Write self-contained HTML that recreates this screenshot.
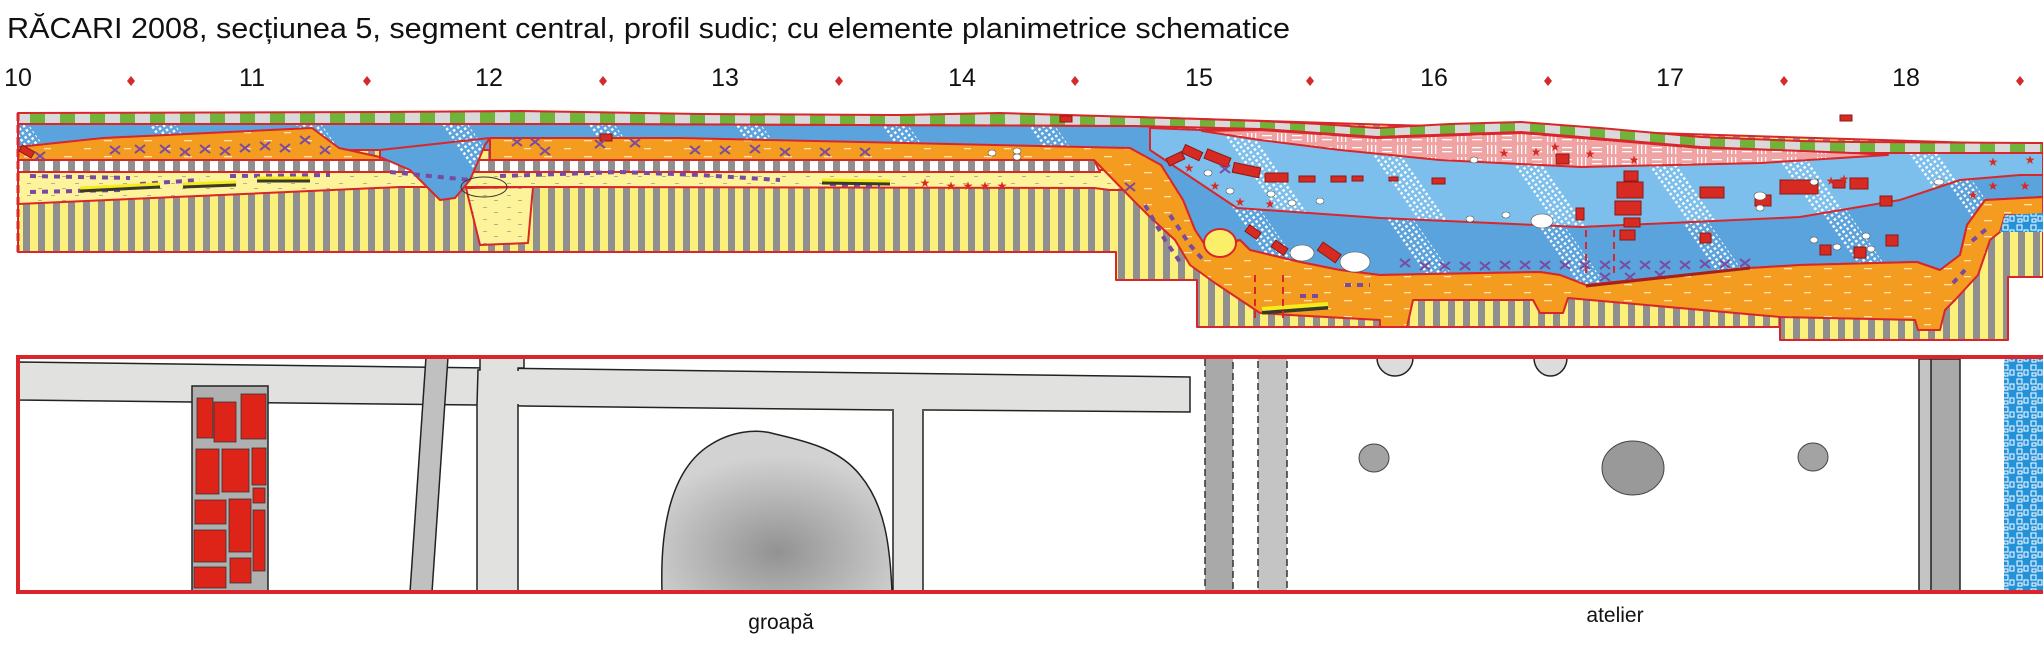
<!DOCTYPE html>
<html><head><meta charset="utf-8"><style>
html,body{margin:0;padding:0;background:#fff;}
svg{display:block;}
text{font-family:"Liberation Sans",Arial,sans-serif;fill:#111;}
</style></head><body>
<svg width="2043" height="648" viewBox="0 0 2043 648" xmlns="http://www.w3.org/2000/svg">
<defs>
<pattern id="pGreen" width="30" height="40" patternUnits="userSpaceOnUse">
<rect width="30" height="40" fill="#d9d9d9"/><rect x="0" width="15" height="40" fill="#6fb33b"/></pattern>
<pattern id="pYS" width="15" height="20" patternUnits="userSpaceOnUse">
<rect width="15" height="20" fill="#fbf07a"/><rect x="8" width="7" height="20" fill="#8f8f8f"/></pattern>
<pattern id="pGW" width="15" height="20" patternUnits="userSpaceOnUse">
<rect width="15" height="20" fill="#fff"/><rect x="8" width="7" height="20" fill="#8f8f8f"/></pattern>
<pattern id="pOr" width="40" height="16" patternUnits="userSpaceOnUse">
<rect width="40" height="16" fill="#f39c1f"/><rect x="4" y="4" width="7" height="1.3" fill="#fde2b0"/><rect x="24" y="12" width="8" height="1.3" fill="#fde2b0"/></pattern>
<pattern id="pYel" width="24" height="12" patternUnits="userSpaceOnUse">
<rect width="24" height="12" fill="#fdf39a"/><rect x="3" y="3" width="4" height="1" fill="#b8b08a"/><rect x="14" y="8" width="4" height="1" fill="#b8b08a"/></pattern>
<pattern id="pBlue" width="120" height="120" patternUnits="userSpaceOnUse" patternTransform="rotate(-35)">
<rect width="120" height="120" fill="#5ba3dc"/>
<rect x="50" y="0" width="22" height="120" fill="url(#pDots)"/></pattern>
<pattern id="pBlueL" width="110" height="110" patternUnits="userSpaceOnUse" patternTransform="rotate(-35)">
<rect width="110" height="110" fill="#7cbfec"/>
<rect x="45" y="0" width="24" height="110" fill="url(#pDots)"/></pattern>
<pattern id="pDots" width="5" height="5" patternUnits="userSpaceOnUse">
<rect x="1" y="1" width="2.5" height="2.5" fill="#fff"/></pattern>
<pattern id="pPink" width="30" height="12" patternUnits="userSpaceOnUse">
<rect width="30" height="12" fill="#f0a3a3"/><rect x="2" y="3" width="10" height="1.3" fill="#fff"/><rect x="2" y="7" width="10" height="1.3" fill="#fff"/><rect x="17" y="1" width="1.3" height="9" fill="#fff"/><rect x="21" y="1" width="1.3" height="9" fill="#fff"/><rect x="25" y="1" width="1.3" height="9" fill="#fff"/></pattern>
<pattern id="pStone" width="14" height="14" patternUnits="userSpaceOnUse">
<rect width="14" height="14" fill="#2392d8"/><rect x="1" y="1" width="5" height="5" fill="none" stroke="#fff" stroke-width="1"/><rect x="8" y="6" width="4" height="5" fill="none" stroke="#fff" stroke-width="1"/><rect x="2" y="9" width="4" height="3" fill="none" stroke="#fff" stroke-width="1"/></pattern>
<radialGradient id="gBlob" cx="0.5" cy="0.75" r="0.6">
<stop offset="0" stop-color="#929292"/><stop offset="1" stop-color="#d2d2d2"/></radialGradient>
<symbol id="x" viewBox="0 0 10 8" overflow="visible"><path d="M0,0 L10,8 M0,8 L10,0" stroke="#7a4aa0" stroke-width="2"/></symbol>
</defs>

<text x="7" y="38" font-size="29" textLength="1283" lengthAdjust="spacingAndGlyphs">RĂCARI 2008, secțiunea 5, segment central, profil sudic; cu elemente planimetrice schematice</text>
<g font-size="25" text-anchor="middle">
<text x="18" y="86">10</text><text x="252" y="86">11</text><text x="489" y="86">12</text><text x="725" y="86">13</text><text x="962" y="86">14</text><text x="1199" y="86">15</text><text x="1434" y="86">16</text><text x="1670" y="86">17</text><text x="1906" y="86">18</text>
</g>
<g fill="#d42a2a">
<path d="M131,76 L135,81 L131,86 L127,81Z"/><path d="M367,76 L371,81 L367,86 L363,81Z"/><path d="M603,76 L607,81 L603,86 L599,81Z"/><path d="M839,76 L843,81 L839,86 L835,81Z"/><path d="M1075,76 L1079,81 L1075,86 L1071,81Z"/><path d="M1310,76 L1314,81 L1310,86 L1306,81Z"/><path d="M1548,76 L1552,81 L1548,86 L1544,81Z"/><path d="M1784,76 L1788,81 L1784,86 L1780,81Z"/><path d="M2020,76 L2024,81 L2020,86 L2016,81Z"/>
</g>

<g stroke="#d9262b" stroke-width="2" stroke-linejoin="round">
<path fill="url(#pYS)" d="M18,113 L1136,117 L2043,145 L2043,277 L2008,277 L2008,340 L1780,340 L1780,327 L1197,327 L1197,280 L1116,280 L1116,252 L18,252 Z"/>
<path fill="url(#pYel)" d="M18,170 L1110,170 L1135,190 L1110,190 L1094,188 L533,187 L400,187 L18,204 Z"/>
<path fill="url(#pYel)" d="M466,188 L480,245 L528,243 L533,187 Z"/>
<path fill="url(#pGW)" d="M18,160 L1094,160 L1100,172 L18,172 Z"/>
<path fill="url(#pBlue)" d="M18,124 L600,124 L1136,126 L1260,129 L1377,137 L1521,132 L1701,147 L1852,153 L2043,153 L2043,197 L1985,200 L1967,225 L1960,255 L1940,270 L1917,262 L1800,265 L1750,268 L1586,285 L1560,275 L1540,272 L1380,275 L1340,270 L1300,262 L1250,250 L1240,240 L1205,245 L1195,230 L1183,200 L1161,165 L1130,150 L18,150 Z"/>
<path fill="url(#pBlue)" d="M380,150 L380,157 L410,170 L430,190 L440,200 L455,198 L470,180 L485,145 L490,138 Z"/>
<path fill="url(#pBlueL)" d="M1150,128 L1200,130 L1260,129 L1377,137 L1521,132 L1701,147 L1852,153 L2043,153 L2043,175 L2020,175 L1960,180 L1900,200 L1800,217 L1780,218 L1581,227 L1380,218 L1237,208 L1150,150 Z"/>
<path fill="url(#pPink)" d="M1202,131 L1260,130 L1377,138 L1521,133 L1701,148 L1820,151 L1888,155 L1761,163 L1581,167 L1440,160 L1340,150 L1260,140 Z"/>
<path fill="url(#pOr)" d="M18,147 L103,138 L312,128 L339,148 L380,157 L380,160 L18,160 Z"/>
<path fill="url(#pOr)" d="M490,138 L680,138 L1130,148 L1161,165 L1183,200 L1195,230 L1205,245 L1215,250 L1240,240 L1250,250 L1300,262 L1340,270 L1380,275 L1540,272 L1560,275 L1586,285 L1750,268 L1800,265 L1917,262 L1940,270 L1960,255 L1967,225 L1985,200 L2043,197 L2043,215 L2005,215 L2000,232 L1990,240 L1978,275 L1955,300 L1945,310 L1940,330 L1918,330 L1915,320 L1780,317 L1568,298 L1563,313 L1540,313 L1533,300 L1413,300 L1407,327 L1380,327 L1380,320 L1290,315 L1260,313 L1215,283 L1190,265 L1175,240 L1150,217 L1133,200 L1094,160 L490,160 Z"/>
<path fill="url(#pStone)" d="M2005,215 L2043,213 L2043,232 L2000,232 Z" stroke="none"/>
<path fill="url(#pGreen)" d="M18,113 L380,112 L520,111 L700,114 L900,115 L1000,113 L1136,117 L1200,119 L1260,121 L1320,124 L1377,128 L1450,124 L1521,122 L1600,128 L1701,137 L1800,141 L1852,142 L2043,143 L2043,153 L1852,153 L1701,147 L1521,132 L1377,137 L1260,129 L1136,126 L600,124 L18,124 Z"/>
<ellipse cx="1220" cy="243" rx="16" ry="14" fill="#fbef6a"/>
</g>
<path d="M18,113 L18,252" stroke="#d9262b" stroke-width="3" stroke-dasharray="8,4"/>
<line x1="1780" y1="317" x2="1780" y2="327" stroke="#d9262b" stroke-width="2"/>

<g fill="#d62a22" stroke="#8a1a14" stroke-width="1">
<rect x="1167" y="155" width="17" height="8" transform="rotate(-25 1175 159)"/>
<rect x="1183" y="148" width="19" height="9" transform="rotate(25 1192 152)"/>
<rect x="1205" y="153" width="25" height="10" transform="rotate(22 1217 158)"/>
<rect x="1233" y="165" width="27" height="10" transform="rotate(12 1246 170)"/>
<rect x="1265" y="173" width="23" height="9"/>
<rect x="1299" y="176" width="16" height="6"/>
<rect x="1331" y="176" width="15" height="6"/>
<rect x="1352" y="176" width="11" height="5"/>
<rect x="1389" y="177" width="9" height="4"/>
<rect x="1432" y="178" width="13" height="6"/>
<rect x="1556" y="154" width="13" height="10"/>
<rect x="1624" y="171" width="14" height="10"/>
<rect x="1617" y="182" width="26" height="16"/>
<rect x="1615" y="201" width="26" height="14"/>
<rect x="1624" y="218" width="16" height="9"/>
<rect x="1620" y="230" width="15" height="10"/>
<rect x="1700" y="187" width="24" height="11"/>
<rect x="1755" y="195" width="16" height="11"/>
<rect x="1780" y="180" width="38" height="14"/>
<rect x="1850" y="178" width="18" height="11"/>
<rect x="1880" y="196" width="12" height="10"/>
<rect x="1576" y="208" width="8" height="12"/>
<rect x="1700" y="233" width="11" height="10"/>
<rect x="1820" y="245" width="11" height="10"/>
<rect x="1854" y="247" width="12" height="11"/>
<rect x="1886" y="235" width="12" height="11"/>
<rect x="1833" y="180" width="12" height="8"/>
<rect x="1246" y="228" width="14" height="8" transform="rotate(35 1253 232)"/>
<rect x="1272" y="244" width="15" height="8" transform="rotate(35 1280 248)"/>
<rect x="1318" y="248" width="22" height="10" transform="rotate(35 1330 253)"/>
<rect x="1840" y="115" width="12" height="6"/><rect x="1060" y="116" width="12" height="6"/>
<rect x="600" y="134" width="12" height="7"/><rect x="20" y="148" width="14" height="7" transform="rotate(30 27 151)"/>
</g>
<g fill="#fff" stroke="#555" stroke-width="0.6">
<ellipse cx="1302" cy="253" rx="12" ry="8"/><ellipse cx="1355" cy="262" rx="15" ry="10"/>
<ellipse cx="1542" cy="221" rx="11" ry="7"/><ellipse cx="1506" cy="215" rx="4" ry="3"/><ellipse cx="1470" cy="219" rx="4" ry="3"/>
<ellipse cx="1208" cy="173" rx="4" ry="3"/><ellipse cx="1230" cy="191" rx="4" ry="3"/><ellipse cx="1271" cy="194" rx="4" ry="3"/>
<ellipse cx="1292" cy="203" rx="4" ry="3"/><ellipse cx="1320" cy="201" rx="4" ry="3"/><ellipse cx="1474" cy="160" rx="4" ry="3"/>
<ellipse cx="1760" cy="196" rx="6" ry="4"/><ellipse cx="1760" cy="208" rx="4" ry="3"/><ellipse cx="1814" cy="182" rx="4" ry="3"/>
<ellipse cx="1814" cy="240" rx="4" ry="3"/><ellipse cx="1837" cy="247" rx="4" ry="3"/><ellipse cx="1866" cy="236" rx="4" ry="3"/><ellipse cx="1871" cy="249" rx="4" ry="3"/>
<ellipse cx="1939" cy="182" rx="5" ry="3"/><ellipse cx="992" cy="153" rx="4" ry="3"/><ellipse cx="1017" cy="151" rx="4" ry="3"/><ellipse cx="1017" cy="157" rx="4" ry="3"/>
</g>
<g font-size="12" text-anchor="middle">
<text x="1189" y="172" style="fill:#d62a22">★</text><text x="1215" y="190" style="fill:#d62a22">★</text><text x="1240" y="206" style="fill:#d62a22">★</text><text x="1270" y="208" style="fill:#d62a22">★</text>
<text x="1504" y="157" style="fill:#d62a22">★</text><text x="1536" y="156" style="fill:#d62a22">★</text><text x="1555" y="151" style="fill:#d62a22">★</text><text x="1590" y="158" style="fill:#d62a22">★</text><text x="1634" y="164" style="fill:#d62a22">★</text>
<text x="1831" y="185" style="fill:#d62a22">★</text><text x="1844" y="183" style="fill:#d62a22">★</text>
<text x="1993" y="166" style="fill:#d62a22">★</text><text x="2030" y="164" style="fill:#d62a22">★</text><text x="1993" y="190" style="fill:#d62a22">★</text><text x="2025" y="190" style="fill:#d62a22">★</text><text x="1973" y="199" style="fill:#d62a22">★</text>
<text x="925" y="187" style="fill:#d62a22">★</text><text x="951" y="190" style="fill:#d62a22">★</text><text x="968" y="190" style="fill:#d62a22">★</text><text x="985" y="190" style="fill:#d62a22">★</text><text x="1002" y="190" style="fill:#d62a22">★</text>
</g>
<g>
<use href="#x" x="1400" y="259" width="10" height="8"/><use href="#x" x="1420" y="262" width="10" height="8"/><use href="#x" x="1440" y="262" width="10" height="8"/><use href="#x" x="1460" y="262" width="10" height="8"/><use href="#x" x="1480" y="262" width="10" height="8"/><use href="#x" x="1500" y="261" width="10" height="8"/><use href="#x" x="1520" y="261" width="10" height="8"/><use href="#x" x="1540" y="261" width="10" height="8"/><use href="#x" x="1560" y="261" width="10" height="8"/><use href="#x" x="1580" y="261" width="10" height="8"/><use href="#x" x="1600" y="261" width="10" height="8"/><use href="#x" x="1620" y="261" width="10" height="8"/><use href="#x" x="1640" y="261" width="10" height="8"/><use href="#x" x="1660" y="261" width="10" height="8"/><use href="#x" x="1680" y="261" width="10" height="8"/><use href="#x" x="1700" y="260" width="10" height="8"/><use href="#x" x="1720" y="260" width="10" height="8"/><use href="#x" x="1740" y="259" width="10" height="8"/>
<use href="#x" x="1600" y="273" width="10" height="8"/><use href="#x" x="1625" y="273" width="10" height="8"/><use href="#x" x="1655" y="271" width="10" height="8"/>
<use href="#x" x="1220" y="165" width="10" height="8"/><use href="#x" x="1125" y="183" width="10" height="8"/>
<use href="#x" x="35" y="152" width="10" height="8"/><use href="#x" x="110" y="146" width="10" height="8"/><use href="#x" x="135" y="145" width="10" height="8"/><use href="#x" x="160" y="145" width="10" height="8"/><use href="#x" x="180" y="148" width="10" height="8"/><use href="#x" x="200" y="145" width="10" height="8"/><use href="#x" x="220" y="147" width="10" height="8"/><use href="#x" x="240" y="144" width="10" height="8"/><use href="#x" x="260" y="142" width="10" height="8"/><use href="#x" x="280" y="144" width="10" height="8"/><use href="#x" x="300" y="136" width="10" height="8"/><use href="#x" x="320" y="146" width="10" height="8"/>
<use href="#x" x="512" y="138" width="10" height="8"/><use href="#x" x="530" y="138" width="10" height="8"/><use href="#x" x="540" y="147" width="10" height="8"/><use href="#x" x="595" y="140" width="10" height="8"/><use href="#x" x="630" y="139" width="10" height="8"/>
<use href="#x" x="690" y="146" width="10" height="8"/><use href="#x" x="720" y="146" width="10" height="8"/><use href="#x" x="750" y="145" width="10" height="8"/><use href="#x" x="780" y="148" width="10" height="8"/><use href="#x" x="820" y="148" width="10" height="8"/><use href="#x" x="860" y="148" width="10" height="8"/>
</g>
<g stroke="#7a4aa0" stroke-width="4" stroke-dasharray="6,6" fill="none">
<path d="M30,176 L130,178"/><path d="M30,192 L120,190"/><path d="M140,184 L200,180"/><path d="M230,176 L330,175"/><path d="M390,172 L470,180"/>
<path d="M500,176 L620,172 L700,175 L780,180"/><path d="M830,184 L880,186"/>
<path d="M1145,205 L1165,240 L1180,262"/><path d="M1170,215 L1190,245 L1205,262"/><path d="M1300,296 L1320,296"/><path d="M1345,285 L1370,285"/>
<path d="M1953,283 L1965,270"/><path d="M1972,241 L1990,226"/>
</g>
<g>
<path d="M80,190 L160,186" stroke="#3a3a2a" stroke-width="5"/><path d="M80,188 L160,184" stroke="#f6ec1c" stroke-width="3"/>
<path d="M183,186 L236,184" stroke="#3a3a2a" stroke-width="5"/><path d="M183,184 L236,182" stroke="#f6ec1c" stroke-width="3"/>
<path d="M257,180 L310,180" stroke="#3a3a2a" stroke-width="5"/><path d="M257,178 L310,178" stroke="#f6ec1c" stroke-width="3"/>
<path d="M822,182 L890,183" stroke="#3a3a2a" stroke-width="5"/><path d="M822,180 L890,181" stroke="#f6ec1c" stroke-width="3"/>
<path d="M1262,312 L1328,307" stroke="#3a3a2a" stroke-width="5"/><path d="M1262,309 L1328,304" stroke="#f6ec1c" stroke-width="4"/>
<path d="M1586,286 L1750,268" stroke="#a8201c" stroke-width="3"/>
</g>
<ellipse cx="484" cy="187" rx="23" ry="10" fill="none" stroke="#333" stroke-width="1"/>
<g stroke="#d9262b" stroke-width="2" stroke-dasharray="7,5">
<path d="M1255,275 L1255,318"/><path d="M1283,275 L1283,318"/><path d="M1586,230 L1586,275"/><path d="M1614,230 L1614,275"/>
</g>

<!-- PLAN -->
<rect x="2004" y="357" width="39" height="235" fill="url(#pStone)"/>
<path d="M18,362 L1190,377 L1190,412 L931,410 L893,410 L523,406 L478,405 L191,402 L18,400 Z" fill="#e1e1e0" stroke="#222" stroke-width="1.5"/>
<rect x="192" y="386" width="76" height="206" fill="#b0b0b0" stroke="#222" stroke-width="1.5"/>
<g fill="#de2418" stroke="#333" stroke-width="0.8">
<rect x="197" y="398" width="16" height="40"/><rect x="214" y="402" width="22" height="40"/><rect x="241" y="394" width="25" height="45"/>
<rect x="196" y="449" width="23" height="45"/><rect x="222" y="449" width="27" height="43"/><rect x="252" y="448" width="14" height="37"/><rect x="253" y="488" width="12" height="15"/>
<rect x="195" y="500" width="31" height="24"/><rect x="229" y="499" width="22" height="53"/><rect x="253" y="510" width="12" height="61"/>
<rect x="194" y="530" width="32" height="32"/><rect x="230" y="558" width="21" height="25"/><rect x="194" y="567" width="32" height="21"/>
</g>
<path d="M426,357 L448,357 L432,592 L410,592 Z" fill="#c0c0c0" stroke="#222" stroke-width="1.5"/>
<path d="M480,357 L524,357 L524,368 L518,368 L518,592 L477,592 L477,405 L478,370 L480,370 Z" fill="#e1e1e0" stroke="#222" stroke-width="1.5"/>
<rect x="479" y="371" width="44" height="33" fill="#e1e1e0"/>
<path d="M893,411 L893,592 L923,592 L923,411" fill="#e1e1e0" stroke="#222" stroke-width="1.5"/>
<rect x="894" y="405" width="28" height="8" fill="#e1e1e0"/>
<path d="M662,592 C660,530 670,470 710,445 C730,432 755,428 775,434 C810,442 840,450 860,475 C885,505 890,545 892,592 Z" fill="url(#gBlob)" stroke="#222" stroke-width="1.5"/>
<rect x="1205" y="357" width="28" height="235" fill="#a9a9a9" stroke="#333" stroke-width="1.5" stroke-dasharray="7,4"/>
<rect x="1258" y="357" width="29" height="235" fill="#c4c4c4" stroke="#333" stroke-width="1.5" stroke-dasharray="7,4"/>
<path d="M1377,358 A18,18 0 0 0 1413,358 Z" fill="#dcdcdc" stroke="#222" stroke-width="1.5"/>
<path d="M1534,358 A16.5,18 0 0 0 1567,358 Z" fill="#dcdcdc" stroke="#222" stroke-width="1.5"/>
<ellipse cx="1374" cy="458" rx="15" ry="14" fill="#a3a3a3" stroke="#444"/>
<ellipse cx="1633" cy="468" rx="31" ry="27" fill="#999" stroke="#444"/>
<ellipse cx="1813" cy="457" rx="15" ry="14" fill="#a3a3a3" stroke="#444"/>
<rect x="1919" y="359" width="13" height="233" fill="#c4c4c4" stroke="#222" stroke-width="1.5"/>
<rect x="1931" y="359" width="29" height="233" fill="#a9a9a9" stroke="#222" stroke-width="1.5"/>
<path d="M2043,357 L18,357 L18,592 L2043,592" fill="none" stroke="#d9262b" stroke-width="4"/>
<text x="781" y="629" font-size="21" text-anchor="middle">groapă</text>
<text x="1615" y="622" font-size="21" text-anchor="middle">atelier</text>
</svg>
</body></html>
